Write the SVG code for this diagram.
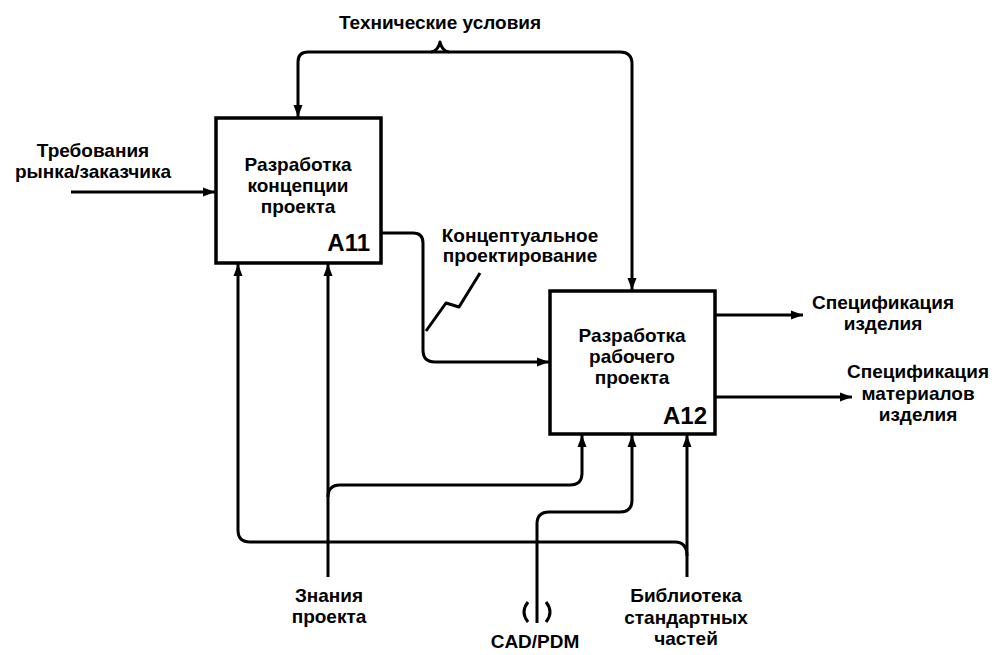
<svg xmlns="http://www.w3.org/2000/svg" width="994" height="655" viewBox="0 0 994 655">
<style>
.box{fill:#fff;stroke:#000;stroke-width:3.5}
.ln{fill:none;stroke:#000;stroke-width:3;stroke-linejoin:round}
.ar{marker-end:url(#ah)}
text{font-family:"Liberation Sans",Arial,sans-serif;font-weight:bold;font-size:19px;fill:#000;text-anchor:middle}
.id{font-size:24px;text-anchor:end}
</style>
<defs>
<marker id="ah" markerUnits="userSpaceOnUse" markerWidth="13" markerHeight="10" refX="12" refY="5" orient="auto">
<path d="M0,0.5 L12,5 L0,9.5 z" fill="#000"/>
</marker>
</defs>
<rect width="994" height="655" fill="#fff"/>
<g id="connectors">
<path class="ln ar" d="M440,52 H308 Q298,52 298,62 V117"/>
<path class="ln ar" d="M440,52 H620 Q632,52 632,64 V290"/>
<path class="ln" d="M431,52 Q438,51 440,42 Q442,51 449,52"/>
<path class="ln ar" d="M71,192 H215"/>
<path class="ln ar" d="M381,233 H413 Q423,233 423,243 V350 Q423,362 435,362 H549"/>
<path class="ln" d="M480,273 L459,307 L446,303 L426,331"/>
<path class="ln ar" d="M715,315 H803"/>
<path class="ln ar" d="M715,397 H852"/>
<path class="ln ar" d="M687,577 V435"/>
<path class="ln ar" d="M687,556 Q687,542 675,542 H250 Q238,542 238,530 V264"/>
<path class="ln ar" d="M328,577 V264"/>
<path class="ln ar" d="M328,497 Q328,485 340,485 H570 Q582,485 582,473 V435"/>
<path class="ln ar" d="M537,623 V524 Q537,512 549,512 H620 Q632,512 632,500 V435"/>
<path class="ln" d="M528,602 Q520,612 528,622"/>
<path class="ln" d="M546,602 Q554,612 546,622"/>
</g>
<g id="A11">
<rect class="box" x="216" y="118" width="165" height="145"/>
<text x="298" y="171">Разработка</text>
<text x="298" y="192">концепции</text>
<text x="298" y="213">проекта</text>
<text class="id" x="370" y="251">A11</text>
</g>
<g id="A12">
<rect class="box" x="550" y="291" width="165" height="143"/>
<text x="632" y="342">Разработка</text>
<text x="632" y="363">рабочего</text>
<text x="632" y="384">проекта</text>
<text class="id" x="707" y="424">A12</text>
</g>
<g id="labels">
<text x="440" y="29">Технические условия</text>
<text x="93" y="157">Требования</text>
<text x="93" y="178">рынка/заказчика</text>
<text x="520" y="242">Концептуальное</text>
<text x="520" y="262">проектирование</text>
<text x="883" y="309">Спецификация</text>
<text x="883" y="330">изделия</text>
<text x="918" y="378">Спецификация</text>
<text x="918" y="400">материалов</text>
<text x="918" y="421">изделия</text>
<text x="329" y="602">Знания</text>
<text x="329" y="623">проекта</text>
<text x="535" y="648">CAD/PDM</text>
<text x="686" y="602">Библиотека</text>
<text x="686" y="624">стандартных</text>
<text x="686" y="645">частей</text>
</g>
</svg>
